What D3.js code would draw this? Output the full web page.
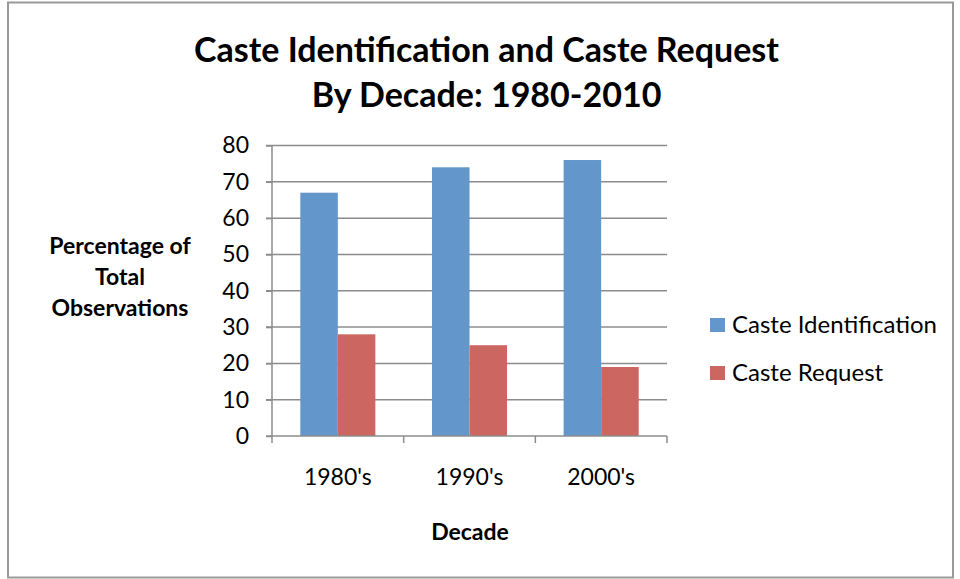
<!DOCTYPE html>
<html>
<head>
<meta charset="utf-8">
<script src="https://cdn.jsdelivr.net/npm/d3@7"></script>
<style>
  html, body { margin: 0; padding: 0; background: #fff; }
  svg { display: block; font-family: "Lato", "Open Sans", sans-serif; }
</style>
</head>
<body>
<svg id="chart" width="960" height="579"></svg>
<script>
// Decades on the x axis and the two measured series (percent of observations)
const decades = ["1980's", "1990's", "2000's"];
const seriesNames = ["Caste Identification", "Caste Request"];
const casteIdentification = [67, 74, 76];
const casteRequest = [28, 25, 19];
const yTicks = [0, 10, 20, 30, 40, 50, 60, 70, 80];
const seriesColors = ["#6396CA", "#CC6660"];

const titleLines = ["Caste Identification and Caste Request", "By Decade: 1980-2010"];
const yLabelLines = ["Percentage of", "Total", "Observations"];
const xLabel = "Decade";

const svg = d3.select("#chart");

// Outer frame
svg.append("rect")
  .attr("x", 8).attr("y", 2.5).attr("width", 945).attr("height", 575)
  .attr("fill", "#fff").attr("stroke", "#9a9a9a").attr("stroke-width", 2);

const plot = { left: 272, right: 667, top: 145.5, bottom: 436 };

const x = d3.scaleBand().domain(decades).range([plot.left, plot.right]).paddingInner(0).paddingOuter(0);
const y = d3.scaleLinear().domain([0, 80]).range([plot.bottom, plot.top]);

// Horizontal gridlines
svg.append("g").selectAll("line").data(yTicks.filter(t => t > 0)).join("line")
  .attr("x1", plot.left - 6).attr("x2", plot.right)
  .attr("y1", d => y(d)).attr("y2", d => y(d))
  .attr("stroke", "#8c8c8c").attr("stroke-width", 1.5);

// Bars, grouped by decade
const groupWidth = x.bandwidth() * 0.57;
const inner = d3.scaleBand().domain(seriesNames).range([0, groupWidth]);
const rows = decades.map((d, i) => ({ decade: d, values: [casteIdentification[i], casteRequest[i]] }));

const groups = svg.append("g").selectAll("g").data(rows).join("g")
  .attr("transform", d => `translate(${x(d.decade) + (x.bandwidth() - groupWidth) / 2},0)`);

groups.selectAll("rect").data(d => d.values.map((v, j) => ({ name: seriesNames[j], value: v, j })))
  .join("rect")
  .attr("x", d => inner(d.name))
  .attr("width", inner.bandwidth())
  .attr("y", d => y(d.value))
  .attr("height", d => y(0) - y(d.value))
  .attr("fill", d => seriesColors[d.j]);

// Y axis
const yAxis = svg.append("g").attr("transform", `translate(${plot.left},0)`)
  .call(d3.axisLeft(y).tickValues(yTicks).tickSize(6).tickPadding(17));
yAxis.select(".domain").attr("stroke", "#8c8c8c").attr("stroke-width", 1.5).attr("d", `M0,${plot.top}V${plot.bottom}`);
yAxis.selectAll(".tick line").attr("stroke", "#8c8c8c").attr("stroke-width", 1.5);
yAxis.selectAll(".tick text").attr("font-size", 23).attr("fill", "#000").attr("font-family", "Lato, sans-serif");

// X axis
const xAxis = svg.append("g").attr("transform", `translate(0,${plot.bottom})`)
  .call(d3.axisBottom(x).tickSize(0).tickPadding(33));
xAxis.select(".domain").attr("stroke", "#8c8c8c").attr("stroke-width", 1.5).attr("d", `M${plot.left - 6},0H${plot.right}`);
xAxis.selectAll(".tick text").attr("font-size", 23).attr("fill", "#000").attr("font-family", "Lato, sans-serif");
// category boundary ticks
svg.append("g").selectAll("line").data(decades.concat(["end"])).join("line")
  .attr("x1", (d, i) => plot.left + i * x.bandwidth())
  .attr("x2", (d, i) => plot.left + i * x.bandwidth())
  .attr("y1", plot.bottom).attr("y2", plot.bottom + 7)
  .attr("stroke", "#8c8c8c").attr("stroke-width", 1.5);

// Title
svg.append("text").attr("x", 486.5).attr("y", 62).attr("text-anchor", "middle")
  .attr("font-size", 34).attr("font-weight", "bold").text(titleLines[0]);
svg.append("text").attr("x", 486.5).attr("y", 107).attr("text-anchor", "middle")
  .attr("font-size", 34).attr("font-weight", "bold").text(titleLines[1]);

// Y axis title
svg.append("g").selectAll("text").data(yLabelLines).join("text")
  .attr("x", 120).attr("y", (d, i) => 254 + i * 31)
  .attr("text-anchor", "middle").attr("font-size", 23).attr("font-weight", "bold")
  .text(d => d);

// X axis title
svg.append("text").attr("x", 470).attr("y", 540).attr("text-anchor", "middle")
  .attr("font-size", 23).attr("font-weight", "bold").text(xLabel);

// Legend
const legend = svg.append("g").selectAll("g").data(seriesNames).join("g")
  .attr("transform", (d, i) => `translate(710,${318 + i * 48})`);
legend.append("rect").attr("width", 15).attr("height", 14).attr("fill", (d, i) => seriesColors[i]);
legend.append("text").attr("x", 22).attr("y", 15).attr("font-size", 24).text(d => d);
</script>
</body>
</html>
